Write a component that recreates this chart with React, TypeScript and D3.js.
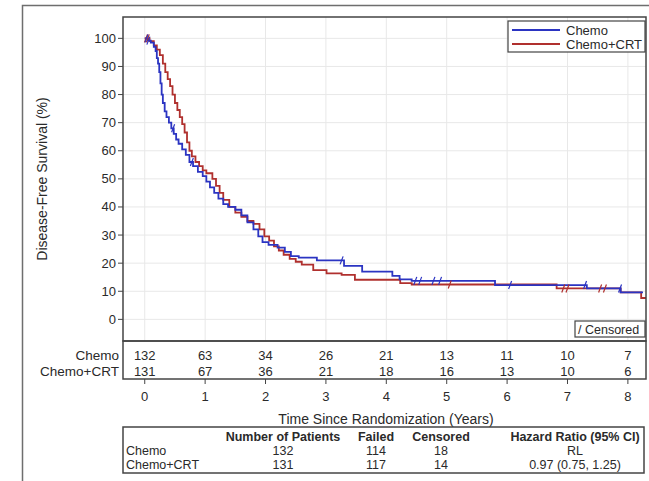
import React from 'react';
import * as d3 from 'd3';

// Kaplan-Meier steps: [years, survival %]
const chemo: [number, number][] = [
  [0, 100], [0.05, 99.2], [0.1, 98.5], [0.15, 97], [0.18, 95.5], [0.2, 93], [0.22, 91],
  [0.24, 88], [0.26, 84], [0.28, 80], [0.3, 77], [0.33, 74], [0.36, 72], [0.4, 70],
  [0.44, 68], [0.48, 66], [0.52, 64], [0.56, 62.5], [0.62, 60.5], [0.68, 58.5], [0.74, 56],
  [0.8, 54.5], [0.88, 52.5], [0.96, 51], [1.02, 49], [1.08, 47], [1.15, 45], [1.22, 43],
  [1.3, 41], [1.38, 40], [1.5, 39], [1.6, 37], [1.7, 34.5], [1.8, 32], [1.88, 29.5],
  [1.95, 27.5], [2.05, 26.5], [2.2, 25.5], [2.32, 24], [2.42, 22.5], [2.55, 22],
  [2.85, 21], [3.3, 19], [3.6, 17], [4.1, 15.5], [4.22, 14.2], [4.42, 13.7],
  [5.8, 12.2], [7.32, 11], [7.88, 9.6],
];
const chemoCrt: [number, number][] = [
  [0, 100], [0.08, 99], [0.15, 97.5], [0.2, 96], [0.25, 94], [0.3, 91], [0.34, 88],
  [0.38, 85.5], [0.42, 83], [0.46, 80], [0.5, 77], [0.54, 74.5], [0.58, 72], [0.62, 69.5],
  [0.66, 66.5], [0.7, 63], [0.74, 60], [0.78, 58], [0.84, 56], [0.9, 54.5], [0.96, 53],
  [1.02, 52], [1.12, 50], [1.18, 47.5], [1.24, 45], [1.3, 42.5], [1.4, 40], [1.5, 38],
  [1.6, 36.5], [1.7, 35], [1.8, 34], [1.9, 32], [1.98, 29.5], [2.06, 28], [2.14, 26],
  [2.22, 24.5], [2.3, 23], [2.4, 21.5], [2.5, 20.5], [2.6, 19.5], [2.79, 17.5],
  [3.01, 16.4], [3.26, 15.8], [3.48, 14.1], [4.23, 12.9], [4.42, 12.4], [6.82, 11],
  [7.88, 9.6], [8.22, 7.6],
];
const chemoEnd = 8.25;
const chemoCrtEnd = 8.3;
const chemoCensored = [0.03, 0.06, 0.47, 0.78, 3.26, 4.48, 4.56, 4.78, 4.89, 6.05, 7.29, 7.87];
const chemoCrtCensored = [0.02, 0.05, 5.05, 6.93, 7.0, 7.54, 7.62];

const yTicks = [0, 10, 20, 30, 40, 50, 60, 70, 80, 90, 100];
const xTicks = [0, 1, 2, 3, 4, 5, 6, 7, 8];
const atRiskChemo = [132, 63, 34, 26, 21, 13, 11, 10, 7];
const atRiskChemoCrt = [131, 67, 36, 21, 18, 16, 13, 10, 6];

const tableHeader = ['Number of Patients', 'Failed', 'Censored', 'Hazard Ratio (95% CI)'];
const tableRows = [
  ['Chemo', '132', '114', '18', 'RL'],
  ['Chemo+CRT', '131', '117', '14', '0.97 (0.75, 1.25)'],
];

const BLUE = '#2b34c2';
const RED = '#b0302e';
const FONT = '"Liberation Sans", Arial, sans-serif';
const INK = '#2a2a2a';

export default function App() {
  const left = 123, right = 646, top = 17, bottom = 341;
  const x = d3.scaleLinear().domain([-0.36, 8.3]).range([left, right]);
  const y = d3.scaleLinear().domain([-7.7, 107.6]).range([bottom, top]);

  const line = d3.line<[number, number]>()
    .x((d) => x(d[0]))
    .y((d) => y(d[1]))
    .curve(d3.curveStepAfter);

  const withEnd = (s: [number, number][], end: number): [number, number][] =>
    [...s, [end, s[s.length - 1][1]]];

  const survAt = (s: [number, number][], t: number) => {
    let v = s[0][1];
    for (const [tt, sv] of s) if (tt <= t) v = sv;
    return v;
  };

  const riskTop = bottom, riskBottom = 379;
  const tableLeft = 123, tableRight = 644, tableTop = 427, tableBottom = 473;
  const colX = [283, 376, 441, 575];

  const censorMarks = (s: [number, number][], times: number[], color: string) =>
    times.map((t, i) => {
      const cx = x(t), cy = y(survAt(s, t));
      return <line key={color + i} x1={cx - 1.5} y1={cy + 4} x2={cx + 1.5} y2={cy - 4}
        stroke={color} strokeWidth={1.2} />;
    });

  return (
    <svg width={649} height={481} style={{ position: 'absolute', left: 0, top: 0 }}
      fontFamily={FONT}>
      <rect x={0} y={0} width={649} height={481} fill="#fff" />
      <rect x={22.5} y={5.5} width={700} height={600} fill="none" stroke="#6e6e6e" strokeWidth={1.5} />

      {/* grid */}
      {yTicks.map((t) => (
        <line key={'gy' + t} x1={left} x2={right} y1={y(t)} y2={y(t)} stroke="#e8e8e8" />
      ))}
      {xTicks.map((t) => (
        <line key={'gx' + t} x1={x(t)} x2={x(t)} y1={top} y2={bottom} stroke="#e8e8e8" />
      ))}

      {/* y axis */}
      {yTicks.map((t) => (
        <g key={'yt' + t}>
          <line x1={left - 5} x2={left} y1={y(t)} y2={y(t)} stroke="#444" />
          <text x={left - 7} y={y(t) + 4.5} fontSize={13} textAnchor="end" fill={INK}>{t}</text>
        </g>
      ))}
      <text transform={`translate(47, ${(top + bottom) / 2}) rotate(-90)`} fontSize={14}
        textAnchor="middle" fill={INK}>Disease-Free Survival (%)</text>

      {/* curves */}
      <path d={line(withEnd(chemoCrt, chemoCrtEnd)) || ''} fill="none" stroke={RED} strokeWidth={1.8} />
      <path d={line(withEnd(chemo, chemoEnd)) || ''} fill="none" stroke={BLUE} strokeWidth={1.8} />
      {censorMarks(chemoCrt, chemoCrtCensored, RED)}
      {censorMarks(chemo, chemoCensored, BLUE)}

      <rect x={left} y={top} width={right - left} height={bottom - top} fill="none" stroke="#444" strokeWidth={1.5} />

      {/* legend */}
      <rect x={508} y={21} width={137} height={31} fill="#fff" stroke="#444" strokeWidth={1.2} />
      <line x1={512} x2={560} y1={30} y2={30} stroke={BLUE} strokeWidth={1.8} />
      <line x1={512} x2={560} y1={44} y2={44} stroke={RED} strokeWidth={1.8} />
      <text x={566} y={34.5} fontSize={13} fill={INK}>Chemo</text>
      <text x={566} y={48.5} fontSize={13} fill={INK}>Chemo+CRT</text>

      <rect x={575} y={321} width={70} height={16} fill="#fff" stroke="#444" strokeWidth={1.2} />
      <text x={578} y={333.5} fontSize={12.5} fill={INK}>/ Censored</text>

      {/* number at risk */}
      <rect x={left} y={riskTop} width={right - left} height={riskBottom - riskTop} fill="none" stroke="#444" strokeWidth={1.5} />
      <text x={119} y={360} fontSize={13.5} textAnchor="end" fill={INK}>Chemo</text>
      <text x={119} y={376} fontSize={13.5} textAnchor="end" fill={INK}>Chemo+CRT</text>
      {xTicks.map((t, i) => (
        <g key={'ar' + t}>
          <text x={x(t)} y={360} fontSize={13} textAnchor="middle" fill={INK}>{atRiskChemo[i]}</text>
          <text x={x(t)} y={376} fontSize={13} textAnchor="middle" fill={INK}>{atRiskChemoCrt[i]}</text>
          <line x1={x(t)} x2={x(t)} y1={riskBottom} y2={riskBottom + 5} stroke="#444" />
          <text x={x(t)} y={400.5} fontSize={13} textAnchor="middle" fill={INK}>{t}</text>
        </g>
      ))}
      <text x={386} y={424} fontSize={14} textAnchor="middle" fill={INK}>
        Time Since Randomization (Years)
      </text>

      {/* summary table */}
      <rect x={tableLeft} y={tableTop} width={tableRight - tableLeft} height={tableBottom - tableTop}
        fill="none" stroke="#444" strokeWidth={1.5} />
      {tableHeader.map((h, i) => (
        <text key={'th' + i} x={colX[i]} y={440.5} fontSize={12.5} fontWeight="bold" textAnchor="middle" fill={INK}>{h}</text>
      ))}
      {tableRows.map((r, ri) => (
        <g key={'tr' + ri}>
          <text x={126} y={455 + ri * 14} fontSize={12.5} fill={INK}>{r[0]}</text>
          {r.slice(1).map((c, ci) => (
            <text key={ci} x={colX[ci]} y={455 + ri * 14} fontSize={12.5} textAnchor="middle" fill={INK}>{c}</text>
          ))}
        </g>
      ))}
    </svg>
  );
}
